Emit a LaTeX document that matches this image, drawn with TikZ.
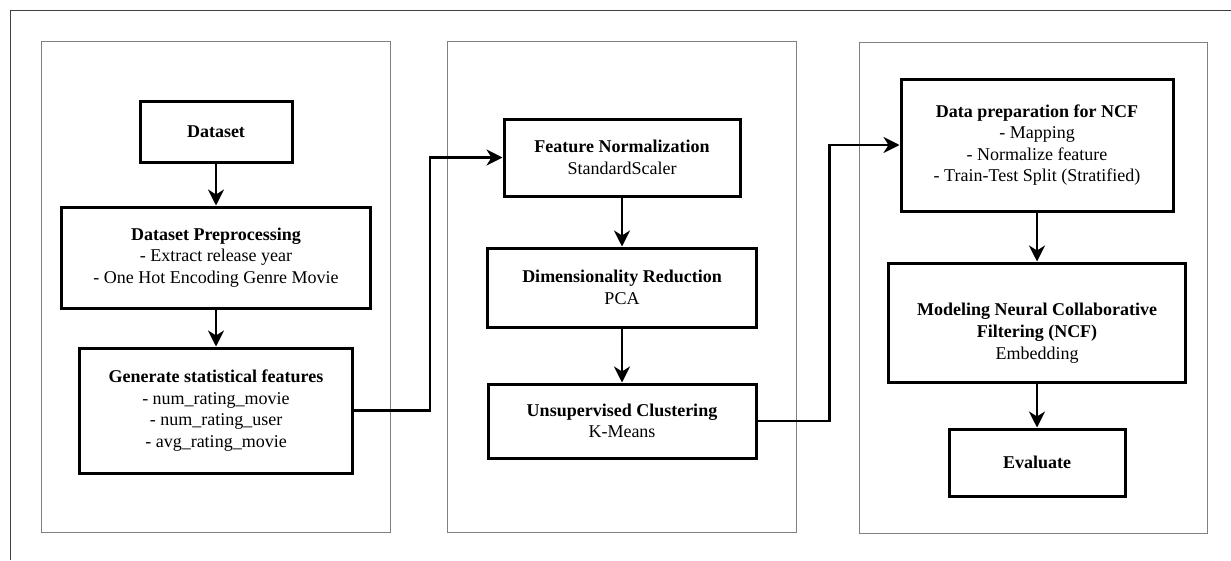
\documentclass[tikz,border=0pt]{standalone}
\usepackage{fontspec}
\setmainfont{Liberation Serif}
\usetikzlibrary{arrows.meta}

\begin{document}
\begin{tikzpicture}[x=1pt, y=-1pt, main/.style={draw, rectangle, line width=3pt, align=center, inner sep=0pt, font=\fontsize{18}{21.6}\selectfont}, panel/.style={draw=black!50, line width=1pt}, n/.style={-{Stealth[length=16pt, width=16pt, inset=5pt]}, line width=2.5pt}]
            \useasboundingbox (0,0) rectangle (1231,560);
            % frame and panels
            \draw[black!75, line width=1pt] (10,560) |- (1231,10);
            \draw[panel] (41,41) rectangle (390,532);
            \draw[panel] (447,41) rectangle (796,532);
            \draw[panel] (859,42) rectangle (1207,533);
            % nodes
            \node[main, minimum width=152pt, minimum height=61pt] (dataset) at (216,131.5) {\textbf{Dataset}};
            \node[main, minimum width=309pt, minimum height=101pt] (prep) at (216,257.5) {\textbf{Dataset Preprocessing}\\- Extract release year\\- One Hot Encoding Genre Movie};
            \node[main, minimum width=273pt, minimum height=125pt] (stats) at (216,410.5) {\textbf{Generate statistical features}\\- num\_rating\_movie\\- num\_rating\_user\\- avg\_rating\_movie};
            \node[main, minimum width=236pt, minimum height=77pt] (norm) at (622,157.5) {\textbf{Feature Normalization}\\StandardScaler};
            \node[main, minimum width=269pt, minimum height=79pt] (pca) at (622,287.5) {\textbf{Dimensionality Reduction}\\PCA};
            \node[main, minimum width=268pt, minimum height=74pt] (kmeans) at (622,421) {\textbf{Unsupervised Clustering}\\K-Means};
            \node[main, minimum width=272pt, minimum height=132pt] (ncfprep) at (1037,145) {\textbf{Data preparation for NCF}\\- Mapping\\- Normalize feature\\- Train-Test Split (Stratified)};
            \node[main, minimum width=297pt, minimum height=119pt] (ncf) at (1037,322.5) {\rule{0pt}{34pt}\textbf{Modeling Neural Collaborative}\\\textbf{Filtering (NCF)}\\Embedding};
            \node[main, minimum width=176pt, minimum height=67pt] (eval) at (1037,462.5) {\textbf{Evaluate}};
            % edges
            \draw[n] (dataset) -- (prep);
            \draw[n] (prep) -- (stats);
            \draw[n] (stats.east) -- ++(76,0) |- (norm.west);
            \draw[n] (norm) -- (pca);
            \draw[n] (pca) -- (kmeans);
            \draw[n] (kmeans.east) -- ++(72,0) |- (ncfprep.west);
            \draw[n] (ncfprep) -- (ncf);
            \draw[n] (ncf) -- (eval);
        \end{tikzpicture}
\end{document}
